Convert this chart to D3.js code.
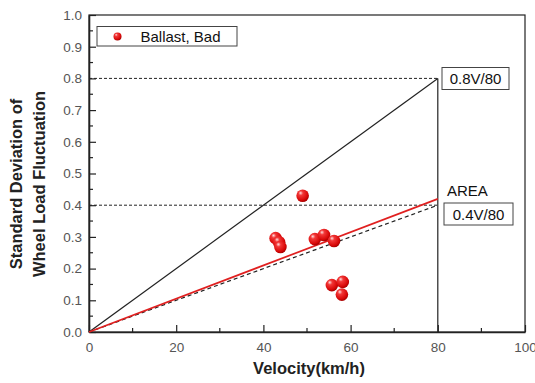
<!DOCTYPE html>
<html>
<head>
<meta charset="utf-8">
<script src="https://cdn.jsdelivr.net/npm/d3@7"></script>
<style>
  body { margin: 0; background: #fff; }
  svg { display: block; font-family: "Liberation Sans", Arial, sans-serif; }
</style>
</head>
<body>
<svg id="chart" width="535" height="383"></svg>
<script>
// Measured points: velocity (km/h) and standard deviation of wheel load fluctuation
const velocity = [49.0, 42.8, 43.6, 43.9, 51.8, 53.9, 56.2, 55.7, 58.2, 58.0];
const stdDev   = [0.430, 0.296, 0.283, 0.268, 0.293, 0.306, 0.287, 0.148, 0.158, 0.118];

// Reference limit lines: y = k * V / 80, drawn up to V = 80
const limitUpperK = 0.8;   // 0.8V/80
const limitLowerK = 0.4;   // 0.4V/80
const areaK = 0.42;        // AREA line
const limitV = 80;

const xTicks = [0, 20, 40, 60, 80, 100];
const yTicks = [0.0, 0.1, 0.2, 0.3, 0.4, 0.5, 0.6, 0.7, 0.8, 0.9, 1.0];

const svg = d3.select("#chart");
const m = { left: 89, right: 525, top: 15, bottom: 332 };

const x = d3.scaleLinear().domain([0, 100]).range([m.left, m.right]);
const y = d3.scaleLinear().domain([0, 1]).range([m.bottom, m.top]);

// Sphere-like marker gradient
const defs = svg.append("defs");
const grad = defs.append("radialGradient").attr("id", "ball")
  .attr("cx", "40%").attr("cy", "35%").attr("r", "65%").attr("fx", "33%").attr("fy", "28%");
grad.append("stop").attr("offset", "0%").attr("stop-color", "#ffe0e0");
grad.append("stop").attr("offset", "28%").attr("stop-color", "#f23838");
grad.append("stop").attr("offset", "80%").attr("stop-color", "#d80808");
grad.append("stop").attr("offset", "100%").attr("stop-color", "#a80000");

// Frame
svg.append("rect").attr("x", m.left).attr("y", m.top)
  .attr("width", m.right - m.left).attr("height", m.bottom - m.top)
  .attr("fill", "none").attr("stroke", "#222").attr("stroke-width", 1.2);

// Axes with inward ticks
const xAxis = d3.axisBottom(x).tickValues(xTicks).tickFormat(d3.format("d"))
  .tickSizeInner(-7).tickSizeOuter(0).tickPadding(10);
const gx = svg.append("g").attr("transform", `translate(0,${m.bottom})`).call(xAxis);
const yAxis = d3.axisLeft(y).tickValues(yTicks).tickFormat(d3.format(".1f"))
  .tickSizeInner(-7).tickSizeOuter(0).tickPadding(7);
const gy = svg.append("g").attr("transform", `translate(${m.left},0)`).call(yAxis);
[gx, gy].forEach(g => {
  g.attr("font-family", null);
  g.select(".domain").attr("stroke", "#222").attr("stroke-width", 1.6);
  g.selectAll(".tick line").attr("stroke", "#222").attr("stroke-width", 1.2);
  g.selectAll(".tick text").attr("fill", "#555").attr("font-size", 13.5);
});

// Minor ticks
const xMinor = d3.range(10, 100, 20);
svg.append("g").selectAll("line").data(xMinor).join("line")
  .attr("x1", d => x(d)).attr("x2", d => x(d))
  .attr("y1", m.bottom).attr("y2", m.bottom - 4)
  .attr("stroke", "#222").attr("stroke-width", 1.2);
const yMinor = d3.range(0.05, 1, 0.1);
svg.append("g").selectAll("line").data(yMinor).join("line")
  .attr("x1", m.left).attr("x2", m.left + 4)
  .attr("y1", d => y(d)).attr("y2", d => y(d))
  .attr("stroke", "#222").attr("stroke-width", 1.2);

// Horizontal dashed guides at 0.8 and 0.4
svg.append("g").selectAll("line").data([limitUpperK, limitLowerK]).join("line")
  .attr("x1", x(0)).attr("x2", x(limitV))
  .attr("y1", d => y(d)).attr("y2", d => y(d))
  .attr("stroke", "#222").attr("stroke-width", 1).attr("stroke-dasharray", "3,2");

// Vertical line at V = 80
svg.append("line").attr("x1", x(limitV)).attr("x2", x(limitV))
  .attr("y1", y(limitUpperK)).attr("y2", y(0))
  .attr("stroke", "#222").attr("stroke-width", 1.2);

const line = d3.line().x(d => x(d[0])).y(d => y(d[1]));
// 0.8V/80
svg.append("path").attr("d", line([[0, 0], [limitV, limitUpperK]]))
  .attr("stroke", "#222").attr("stroke-width", 1.2).attr("fill", "none");
// 0.4V/80 (dashed)
svg.append("path").attr("d", line([[0, 0], [limitV, limitLowerK]]))
  .attr("stroke", "#222").attr("stroke-width", 1.2).attr("fill", "none")
  .attr("stroke-dasharray", "4,3");
// AREA
svg.append("path").attr("d", line([[0, 0], [limitV, areaK]]))
  .attr("stroke", "#e02020").attr("stroke-width", 1.7).attr("fill", "none");

// Data points
svg.append("g").selectAll("circle").data(velocity.map((v, i) => [v, stdDev[i]])).join("circle")
  .attr("cx", d => x(d[0])).attr("cy", d => y(d[1])).attr("r", 6.3)
  .attr("fill", "url(#ball)");

// Line labels in boxes
function boxLabel(bx, by, bw, bh, text) {
  svg.append("rect").attr("x", bx).attr("y", by).attr("width", bw).attr("height", bh)
    .attr("fill", "#fff").attr("stroke", "#444").attr("stroke-width", 1);
  svg.append("text").attr("x", bx + bw / 2).attr("y", by + bh / 2 + 5.5)
    .attr("text-anchor", "middle").attr("font-size", 15).attr("fill", "#111").text(text);
}
boxLabel(442, 67.5, 67, 22, "0.8V/80");
svg.append("text").attr("x", 447).attr("y", 195.5).attr("font-size", 15)
  .attr("fill", "#111").text("AREA");
boxLabel(444, 203, 69, 22, "0.4V/80");

// Legend
svg.append("rect").attr("x", 97).attr("y", 26.5).attr("width", 140).attr("height", 19.5)
  .attr("fill", "#fff").attr("stroke", "#444").attr("stroke-width", 1);
svg.append("circle").attr("cx", 117.5).attr("cy", 36.5).attr("r", 4).attr("fill", "url(#ball)");
svg.append("text").attr("x", 140.5).attr("y", 41.5).attr("font-size", 15)
  .attr("fill", "#111").text("Ballast, Bad");

// Axis titles
svg.append("text").attr("x", 309).attr("y", 374)
  .attr("text-anchor", "middle").attr("font-size", 16.5).attr("font-weight", "bold")
  .attr("fill", "#222").text("Velocity(km/h)");
const yt = svg.append("text").attr("transform", "translate(0,184) rotate(-90)")
  .attr("text-anchor", "middle").attr("font-size", 16.5).attr("font-weight", "bold").attr("fill", "#222");
yt.append("tspan").attr("x", 0).attr("y", 22).text("Standard Deviation of");
yt.append("tspan").attr("x", 0).attr("y", 45).text("Wheel Load Fluctuation");
</script>
</body>
</html>
